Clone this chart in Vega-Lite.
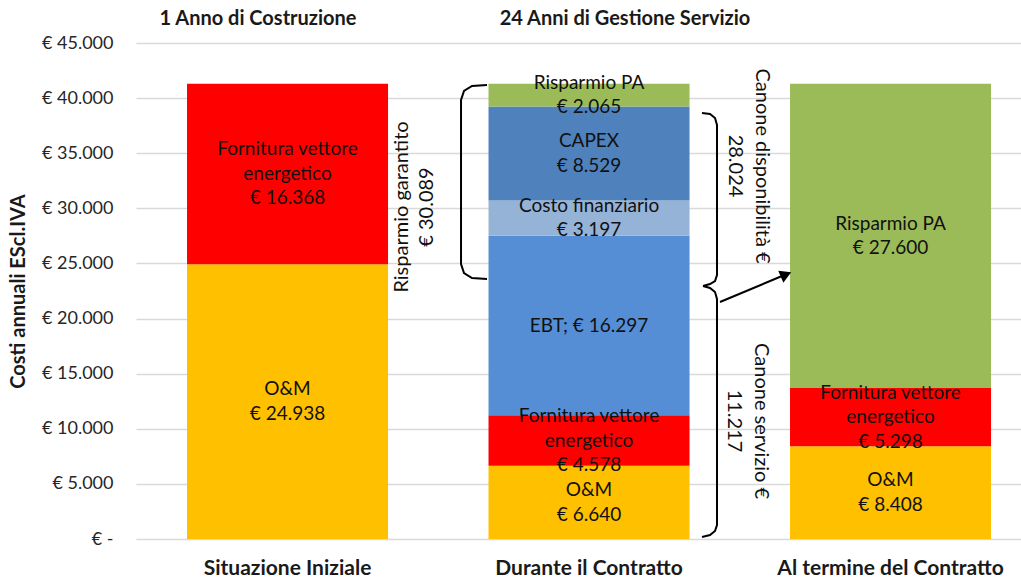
{
  "$schema": "https://vega.github.io/schema/vega-lite/v6.json",
  "width": 885,
  "height": 496,
  "autosize": {"type": "none"},
  "padding": {"left": 136, "top": 43, "right": 0, "bottom": 41},
  "background": "white",
  "config": {"view": {"stroke": null}, "font": "Lato"},
  "datasets": {
    "costs": [
      {"scenario": "Situazione Iniziale", "component": "O&M", "ord": 1, "value": 24938, "label": "O&M\n€ 24.938"},
      {"scenario": "Situazione Iniziale", "component": "Fornitura vettore energetico", "ord": 2, "value": 16368, "label": "Fornitura vettore\nenergetico\n€ 16.368"},
      {"scenario": "Durante il Contratto", "component": "O&M", "ord": 1, "value": 6640, "label": "O&M\n€ 6.640"},
      {"scenario": "Durante il Contratto", "component": "Fornitura vettore energetico", "ord": 2, "value": 4578, "label": "Fornitura vettore\nenergetico\n€ 4.578"},
      {"scenario": "Durante il Contratto", "component": "EBT", "ord": 3, "value": 16297, "label": "EBT; € 16.297"},
      {"scenario": "Durante il Contratto", "component": "Costo finanziario", "ord": 4, "value": 3197, "label": "Costo finanziario\n€ 3.197"},
      {"scenario": "Durante il Contratto", "component": "CAPEX", "ord": 5, "value": 8529, "label": "CAPEX\n€ 8.529"},
      {"scenario": "Durante il Contratto", "component": "Risparmio PA", "ord": 6, "value": 2065, "label": "Risparmio PA\n€ 2.065"},
      {"scenario": "Al termine del Contratto", "component": "O&M", "ord": 1, "value": 8408, "label": "O&M\n€ 8.408"},
      {"scenario": "Al termine del Contratto", "component": "Fornitura vettore energetico", "ord": 2, "value": 5298, "label": "Fornitura vettore\nenergetico\n€ 5.298"},
      {"scenario": "Al termine del Contratto", "component": "Risparmio PA", "ord": 6, "value": 27600, "label": "Risparmio PA\n€ 27.600"}
    ],
    "shapes": [
      {"shape": "b1", "i": 1, "u": 0.6617, "y": 41190},
      {"shape": "b1", "i": 2, "u": 0.6119, "y": 41099},
      {"shape": "b1", "i": 3, "u": 0.5854, "y": 40645},
      {"shape": "b1", "i": 4, "u": 0.5755, "y": 39829},
      {"shape": "b1", "i": 5, "u": 0.5755, "y": 24950},
      {"shape": "b1", "i": 6, "u": 0.5854, "y": 24133},
      {"shape": "b1", "i": 7, "u": 0.6119, "y": 23680},
      {"shape": "b1", "i": 8, "u": 0.6617, "y": 23589},
      {"shape": "b2", "i": 1, "u": 1.3748, "y": 38649},
      {"shape": "b2", "i": 2, "u": 1.4013, "y": 38559},
      {"shape": "b2", "i": 3, "u": 1.4179, "y": 38196},
      {"shape": "b2", "i": 4, "u": 1.4245, "y": 37561},
      {"shape": "b2", "i": 5, "u": 1.4245, "y": 23952},
      {"shape": "b2", "i": 6, "u": 1.4179, "y": 23407},
      {"shape": "b2", "i": 7, "u": 1.4013, "y": 23135},
      {"shape": "b2", "i": 8, "u": 1.3781, "y": 22954},
      {"shape": "b3", "i": 1, "u": 1.3781, "y": 22954},
      {"shape": "b3", "i": 2, "u": 1.4013, "y": 22772},
      {"shape": "b3", "i": 3, "u": 1.4179, "y": 22409},
      {"shape": "b3", "i": 4, "u": 1.4245, "y": 21774},
      {"shape": "b3", "i": 5, "u": 1.4245, "y": 1270},
      {"shape": "b3", "i": 6, "u": 1.4179, "y": 726},
      {"shape": "b3", "i": 7, "u": 1.4013, "y": 363},
      {"shape": "b3", "i": 8, "u": 1.3748, "y": 181},
      {"shape": "arrow", "i": 1, "u": 1.4345, "y": 21502},
      {"shape": "arrow", "i": 2, "u": 1.6401, "y": 23861}
    ],
    "heads": [
      {"u": 1.6534, "y": 23997}
    ],
    "notes": [
      {"kind": "header", "u": -0.0978, "y": 47178, "text": "1 Anno di Costruzione"},
      {"kind": "header", "u": 1.1194, "y": 47178, "text": "24 Anni di Gestione Servizio"},
      {"kind": "up", "u": 0.4212, "y": 30121, "text": "Risparmio garantito\n€ 30.089"},
      {"kind": "down", "u": 1.529, "y": 33841, "text": "Canone disponibilità €\n28.024"},
      {"kind": "down", "u": 1.5257, "y": 10706, "text": "Canone servizio €\n11.217"}
    ]
  },
  "layer": [
    {
      "data": {"name": "costs"},
      "transform": [
        {"stack": "value", "groupby": ["scenario"], "sort": [{"field": "ord", "order": "ascending"}], "as": ["y0", "y1"]},
        {"calculate": "(datum.y0 + datum.y1) / 2", "as": "ymid"},
        {"calculate": "length(split(datum.label, '\\n'))", "as": "nlines"}
      ],
      "encoding": {
        "x": {
          "field": "scenario",
          "type": "nominal",
          "sort": ["Situazione Iniziale", "Durante il Contratto", "Al termine del Contratto"],
          "scale": {"paddingInner": 0.3333, "paddingOuter": 0.1343, "align": 0.63},
          "axis": {
            "title": null,
            "labelAngle": 0,
            "labelFont": "Lato",
            "labelFontSize": 21,
            "labelFontWeight": "bold",
            "labelColor": "#1a1a1a",
            "labelPadding": 18,
            "labelLimit": 0,
            "labelOverlap": false,
            "ticks": false,
            "domain": false,
            "grid": false
          }
        }
      },
      "layer": [
        {
          "mark": {"type": "bar"},
          "encoding": {
            "y": {
              "field": "y0",
              "type": "quantitative",
              "scale": {"domain": [0, 45000], "nice": false},
              "axis": {
                "title": "Costi annuali EScl.IVA",
                "titleFont": "Lato",
                "titleFontSize": 20,
                "titleFontWeight": "bold",
                "titleColor": "#1a1a1a",
                "titleAngle": -90,
                "titleBaseline": "middle",
                "titleAlign": "center",
                "titleX": -118,
                "titleY": 248,
                "values": [0, 5000, 10000, 15000, 20000, 25000, 30000, 35000, 40000, 45000],
                "labelExpr": "datum.value == 0 ? '€ -' : '€ ' + replace(format(datum.value, ','), ',', '.')",
                "labelFont": "Lato",
                "labelFontSize": 18,
                "labelColor": "#262626",
                "labelPadding": 23,
                "ticks": false,
                "domain": false,
                "grid": true,
                "gridColor": "#D9D9D9",
                "gridWidth": 1.5
              }
            },
            "y2": {"field": "y1"},
            "color": {
              "field": "component",
              "type": "nominal",
              "scale": {
                "domain": ["O&M", "Fornitura vettore energetico", "EBT", "Costo finanziario", "CAPEX", "Risparmio PA"],
                "range": ["#FFC000", "#FF0000", "#558ED5", "#95B3D7", "#4F81BD", "#9BBB59"]
              },
              "legend": null
            }
          }
        },
        {
          "transform": [{"filter": "datum.nlines == 1"}],
          "mark": {"type": "text", "lineBreak": "\n", "lineHeight": 24.5, "fontSize": 19, "font": "Lato", "baseline": "middle", "align": "center", "color": "#111111"},
          "encoding": {
            "y": {"field": "ymid", "type": "quantitative", "scale": {"domain": [0, 45000], "nice": false}},
            "text": {"field": "label"}
          }
        },
        {
          "transform": [{"filter": "datum.nlines == 2"}],
          "mark": {"type": "text", "lineBreak": "\n", "lineHeight": 24.5, "dy": -12.25, "fontSize": 19, "font": "Lato", "baseline": "middle", "align": "center", "color": "#111111"},
          "encoding": {
            "y": {"field": "ymid", "type": "quantitative", "scale": {"domain": [0, 45000], "nice": false}},
            "text": {"field": "label"}
          }
        },
        {
          "transform": [{"filter": "datum.nlines == 3"}],
          "mark": {"type": "text", "lineBreak": "\n", "lineHeight": 24.5, "dy": -24.5, "fontSize": 19, "font": "Lato", "baseline": "middle", "align": "center", "color": "#111111"},
          "encoding": {
            "y": {"field": "ymid", "type": "quantitative", "scale": {"domain": [0, 45000], "nice": false}},
            "text": {"field": "label"}
          }
        }
      ]
    },
    {
      "encoding": {
        "x": {"field": "u", "type": "quantitative", "scale": {"domain": [-0.5025, 2.4328], "nice": false, "zero": false}, "axis": null},
        "y": {"field": "y", "type": "quantitative", "scale": {"domain": [0, 45000], "nice": false}}
      },
      "layer": [
        {
          "data": {"name": "shapes"},
          "mark": {"type": "line", "stroke": "black", "strokeWidth": 2, "interpolate": "linear"},
          "encoding": {"detail": {"field": "shape"}, "order": {"field": "i"}}
        },
        {
          "data": {"name": "heads"},
          "mark": {"type": "point", "shape": "triangle-up", "filled": true, "color": "black", "size": 170, "angle": 67, "opacity": 1}
        },
        {
          "data": {"name": "notes"},
          "transform": [{"filter": "datum.kind == 'header'"}],
          "mark": {"type": "text", "font": "Lato", "fontSize": 20, "fontWeight": "bold", "color": "#1a1a1a", "align": "center", "baseline": "middle"},
          "encoding": {"text": {"field": "text"}}
        },
        {
          "data": {"name": "notes"},
          "transform": [{"filter": "datum.kind == 'up'"}],
          "mark": {"type": "text", "font": "Lato", "fontSize": 20, "color": "#111111", "align": "center", "baseline": "middle", "angle": 270, "lineBreak": "\n", "lineHeight": 25, "dy": -12.5},
          "encoding": {"text": {"field": "text"}}
        },
        {
          "data": {"name": "notes"},
          "transform": [{"filter": "datum.kind == 'down'"}],
          "mark": {"type": "text", "font": "Lato", "fontSize": 20, "color": "#111111", "align": "center", "baseline": "middle", "angle": 90, "lineBreak": "\n", "lineHeight": 27, "dy": -13.5},
          "encoding": {"text": {"field": "text"}}
        }
      ]
    }
  ],
  "resolve": {"scale": {"x": "independent"}}
}
